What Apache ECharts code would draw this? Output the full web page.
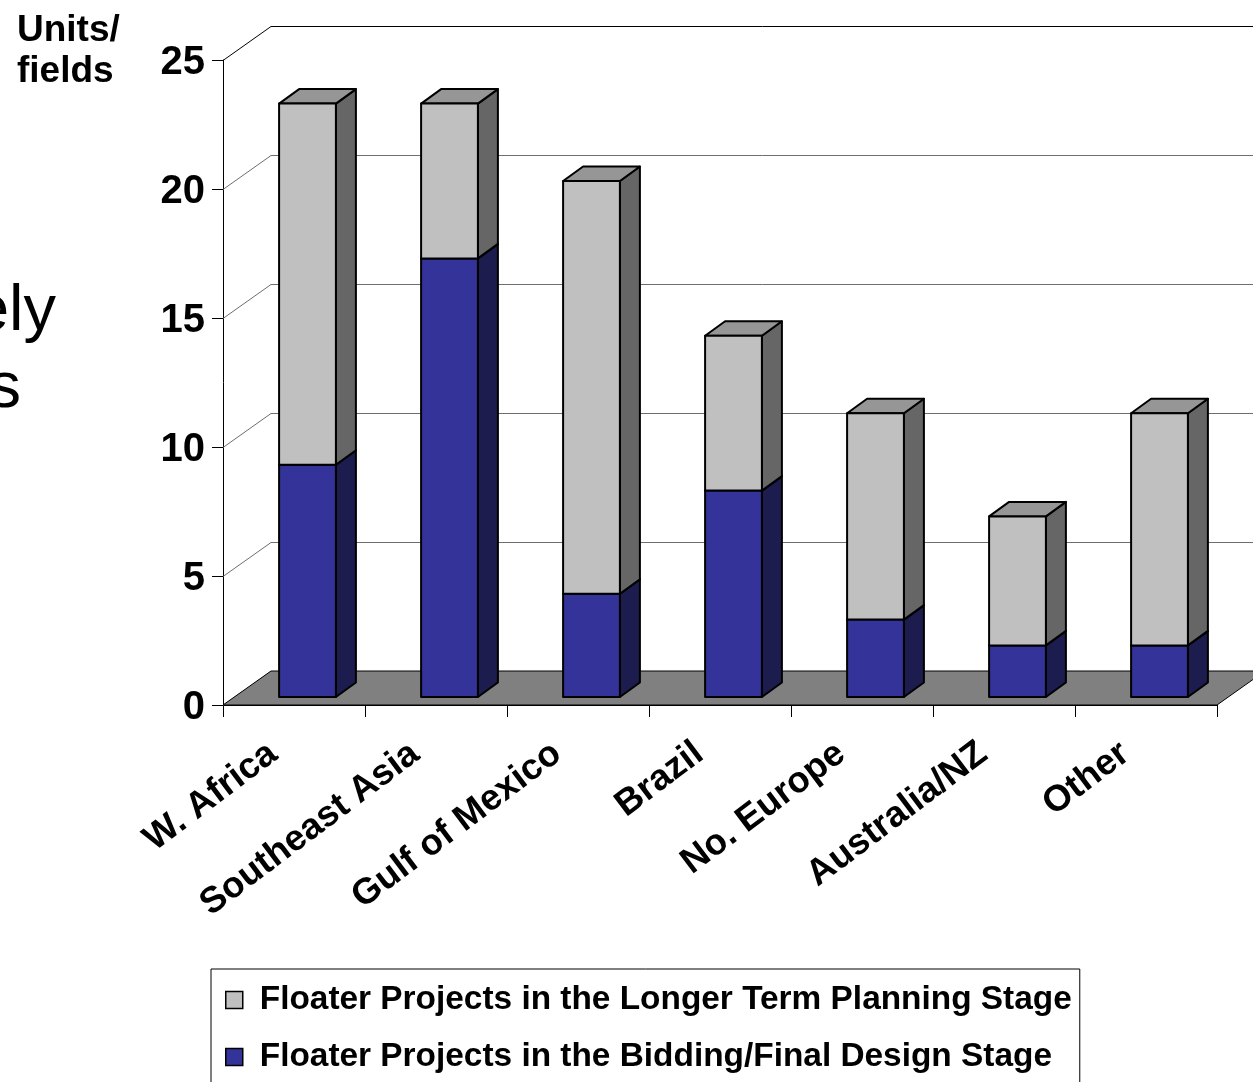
<!DOCTYPE html>
<html>
<head>
<meta charset="utf-8">
<script src="https://cdn.jsdelivr.net/npm/echarts@6/dist/echarts.min.js"></script>
<style>
  html, body { margin: 0; padding: 0; background: #fff; }
  #chart { width: 1253px; height: 1082px; }
</style>
</head>
<body>
<div id="chart"></div>
<script>
// Floater projects by region (units / fields)
const categories = ['W. Africa', 'Southeast Asia', 'Gulf of Mexico', 'Brazil', 'No. Europe', 'Australia/NZ', 'Other'];
const biddingStage = [9, 17, 4, 8, 3, 2, 2];
const planningStage = [14, 6, 16, 6, 8, 5, 9];
const valueTicks = [0, 5, 10, 15, 20, 25];

const seriesNames = {
  planning: 'Floater Projects in the Longer Term Planning Stage',
  bidding: 'Floater Projects in the Bidding/Final Design Stage'
};

const FONT = '"Liberation Sans", Arial, Helvetica, sans-serif';

// 3D box geometry (pixels)
const WALL = [48, -34];        // depth of the floor / walls
const BAR_FRONT = [13.5, -8];  // front face of bars, set back from the axis plane
const BAR_DEPTH = [20, -14.5]; // depth of each bar
const BAR_WIDTH_RATIO = 0.4;   // bar width as part of a category band

const COLORS = {
  planning: { front: '#C0C0C0', top: '#969696', side: '#666666' },
  bidding: { front: '#333399', top: '#26266f', side: '#1c1c4f' },
  floor: '#808080',
  grid: '#6e6e6e'
};

const crisp = (v) => Math.round(v) + 0.5;

// back wall and side wall lines at each value tick
function renderWall(params, api) {
  const cs = params.coordSys;
  const v = api.value(1);
  const y = crisp(api.coord([0, v])[1]);
  const x0 = cs.x, x1 = cs.x + cs.width;
  const isTop = v === valueTicks[valueTicks.length - 1];
  return {
    type: 'polyline',
    shape: { points: [[x0, y], [x0 + WALL[0], y + WALL[1]], [x1 + WALL[0], y + WALL[1]]] },
    style: { fill: null, stroke: isTop ? '#000' : COLORS.grid, lineWidth: 1 }
  };
}

// floor of the chart box
function renderFloor(params, api) {
  const cs = params.coordSys;
  const y = api.coord([0, 0])[1];
  const x0 = cs.x, x1 = cs.x + cs.width;
  return {
    type: 'polygon',
    shape: { points: [[x0, y], [x1, y], [x1 + WALL[0], y + WALL[1]], [x0 + WALL[0], y + WALL[1]]] },
    style: { fill: COLORS.floor, stroke: '#000', lineWidth: 1 }
  };
}

// one stacked segment of a 3D column: data = [categoryIndex, base, top]
function barRenderer(palette) {
  return function (params, api) {
    const i = api.value(0), lo = api.value(1), hi = api.value(2);
    const pLo = api.coord([i, lo]);
    const pHi = api.coord([i, hi]);
    const w = api.size([1, 0])[0] * BAR_WIDTH_RATIO;
    const xl = pLo[0] - w / 2 + BAR_FRONT[0];
    const xr = xl + w;
    const yb = pLo[1] + BAR_FRONT[1];
    const yt = pHi[1] + BAR_FRONT[1];
    const dx = BAR_DEPTH[0], dy = BAR_DEPTH[1];
    const st = (fill) => ({ fill: fill, stroke: '#000', lineWidth: 2, lineJoin: 'round' });
    return {
      type: 'group',
      children: [
        { type: 'polygon', shape: { points: [[xr, yt], [xr + dx, yt + dy], [xr + dx, yb + dy], [xr, yb]] }, style: st(palette.side) },
        { type: 'polygon', shape: { points: [[xl, yt], [xl + dx, yt + dy], [xr + dx, yt + dy], [xr, yt]] }, style: st(palette.top) },
        { type: 'rect', shape: { x: xl, y: yt, width: w, height: yb - yt }, style: st(palette.front) }
      ]
    };
  };
}

const biddingData = categories.map((c, i) => [i, 0, biddingStage[i]]);
const planningData = categories.map((c, i) => [i, biddingStage[i], biddingStage[i] + planningStage[i]]);

const chart = echarts.init(document.getElementById('chart'), null, { renderer: 'canvas' });

chart.setOption({
  animation: false,
  backgroundColor: '#fff',
  textStyle: { fontFamily: FONT },
  title: {
    text: 'Units/\nfields',
    left: 17,
    top: 10,
    padding: 0,
    textStyle: { fontFamily: FONT, fontSize: 37, fontWeight: 'bold', color: '#000', lineHeight: 41 }
  },
  graphic: [
    { type: 'text', style: { text: 'ely', x: 56, y: 312, align: 'right', verticalAlign: 'middle', fontFamily: FONT, fontSize: 65, fill: '#000' } },
    { type: 'text', style: { text: 's', x: 21, y: 389, align: 'right', verticalAlign: 'middle', fontFamily: FONT, fontSize: 65, fill: '#000' } }
  ],
  legend: {
    orient: 'vertical',
    left: 211,
    top: 969,
    height: 300,
    padding: [12, 8, 30, 14],
    itemGap: 19,
    itemWidth: 17,
    itemHeight: 17,
    borderColor: '#000',
    borderWidth: 1,
    icon: 'rect',
    selectedMode: false,
    textStyle: { fontFamily: FONT, fontSize: 33.4, fontWeight: 'bold', color: '#000', lineHeight: 38, padding: [0, 0, 0, 12] },
    data: [
      { name: seriesNames.planning, itemStyle: { color: COLORS.planning.front, borderColor: '#000', borderWidth: 1.5 } },
      { name: seriesNames.bidding, itemStyle: { color: COLORS.bidding.front, borderColor: '#000', borderWidth: 1.5 } }
    ]
  },
  grid: { left: 223, right: 36, top: 60, bottom: 377, containLabel: false },
  xAxis: {
    type: 'category',
    data: categories,
    boundaryGap: true,
    axisLine: { show: true, lineStyle: { color: '#000', width: 1 } },
    axisTick: { show: true, length: 12, interval: 0, lineStyle: { color: '#000', width: 1 } },
    axisLabel: {
      interval: 0,
      rotate: 37,
      margin: 29,
      padding: [0, 26, 0, 0],
      fontFamily: FONT,
      fontSize: 36.5,
      fontWeight: 'bold',
      color: '#000'
    },
    splitLine: { show: false }
  },
  yAxis: {
    type: 'value',
    min: 0,
    max: 25,
    interval: 5,
    axisLine: { show: true, lineStyle: { color: '#000', width: 1 } },
    axisTick: { show: true, length: 11, lineStyle: { color: '#000', width: 1 } },
    axisLabel: { margin: 18, verticalAlign: 'top', lineHeight: 6, fontFamily: FONT, fontSize: 40, fontWeight: 'bold', color: '#000' },
    splitLine: { show: false }
  },
  series: [
    {
      type: 'custom',
      name: 'walls',
      z: 1,
      silent: true,
      renderItem: renderWall,
      encode: { x: 0, y: 1 },
      data: valueTicks.map(v => [0, v])
    },
    {
      type: 'custom',
      name: 'floor',
      z: 2,
      silent: true,
      renderItem: renderFloor,
      encode: { x: 0, y: 1 },
      data: [[0, 0]]
    },
    {
      type: 'custom',
      name: seriesNames.bidding,
      z: 3,
      renderItem: barRenderer(COLORS.bidding),
      itemStyle: { color: COLORS.bidding.front, borderColor: '#000', borderWidth: 1.5 },
      encode: { x: 0, y: [1, 2] },
      data: biddingData
    },
    {
      type: 'custom',
      name: seriesNames.planning,
      z: 4,
      renderItem: barRenderer(COLORS.planning),
      itemStyle: { color: COLORS.planning.front, borderColor: '#000', borderWidth: 1.5 },
      encode: { x: 0, y: [1, 2] },
      data: planningData
    }
  ]
});
</script>
</body>
</html>
